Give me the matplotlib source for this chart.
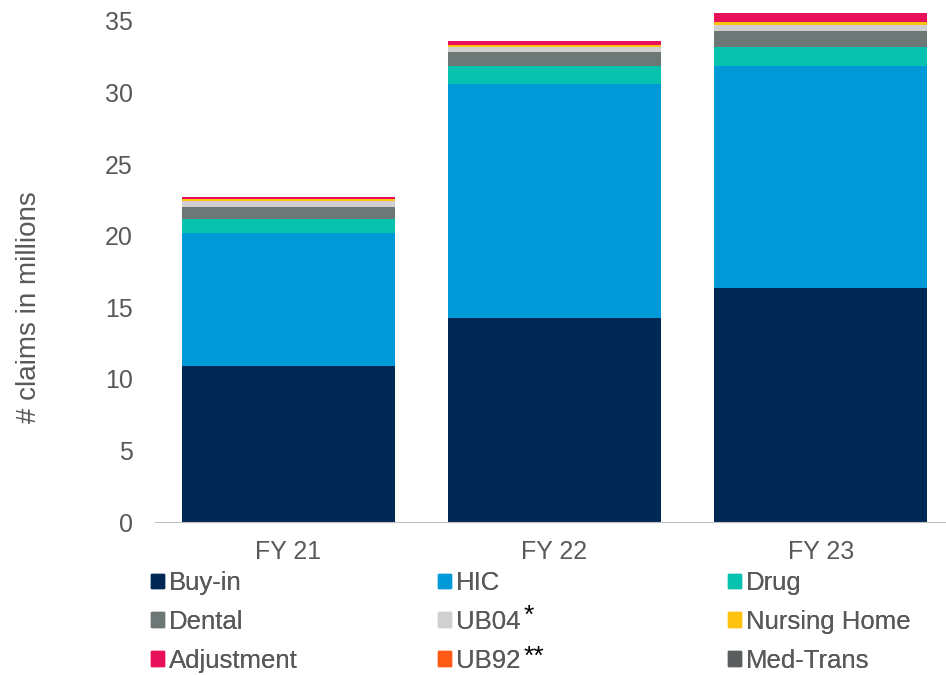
import matplotlib
matplotlib.use("Agg")
import matplotlib.pyplot as plt
from matplotlib.patches import Rectangle
import numpy as np

plt.rcParams['font.family'] = ['Liberation Sans', 'DejaVu Sans']

years = ["FY 21", "FY 22", "FY 23"]
series = ["Buy-in", "HIC", "Drug", "Dental", "UB04", "Nursing Home", "Adjustment", "UB92", "Med-Trans"]
buy_in = [10.9, 14.26, 16.35]
hic = [9.3, 16.34, 15.52]
drug = [0.97, 1.27, 1.32]
dental = [0.86, 0.93, 1.07]
ub04 = [0.37, 0.39, 0.42]
nursing_home = [0.15, 0.14, 0.24]
adjustment = [0.15, 0.27, 0.60]
ub92 = [0.01, 0.01, 0.01]
med_trans = [0.0, 0.0, 0.0]

colors = ["#002855", "#0099D8", "#08C2B0", "#6D7876", "#D0D0D0", "#FFC20E", "#E8105A", "#FF5B14", "#5B5E5E"]
values = [buy_in, hic, drug, dental, ub04, nursing_home, adjustment, ub92, med_trans]

fig = plt.figure(figsize=(9.46, 6.75), dpi=100)
ax = fig.add_axes([155/946, 153/675, 791/946, 514/675])

x = np.arange(len(years))
bottom = np.zeros(len(years))
for name, vals, c in zip(series, values, colors):
    ax.bar(x, vals, 0.8, bottom=bottom, color=c, label=name, linewidth=0)
    bottom += np.array(vals)

ax.set_xlim(-0.5, 2.47)
ax.set_ylim(0, 35.9)
ax.set_yticks(range(0, 36, 5))
ax.set_xticks(x)
ax.set_xticklabels(years)
for s in ["top", "right", "left"]:
    ax.spines[s].set_visible(False)
ax.spines["bottom"].set_color("#BFBFBF")
ax.tick_params(axis="y", length=0, labelsize=18, colors="#595959", pad=16)
ax.tick_params(axis="x", length=0, labelsize=18, colors="#595959", pad=13)
ax.set_ylabel("# claims in millions", fontsize=20, color="#595959")
ax.yaxis.set_label_coords(-(155 - 42) / 791, 0.5 - 42 / 514)

cols = [[0, 3, 6], [1, 4, 7], [2, 5, 8]]
xpos = [151, 438, 728]
for col, xp in zip(cols, xpos):
    hs = [Rectangle((0, 0), 1, 1, color=colors[i]) for i in col]
    ls = [series[i] for i in col]
    leg = fig.legend(hs, ls, loc="upper left", bbox_to_anchor=(xp/946, 1 - 571/675),
                     frameon=False, fontsize=18.5, handlelength=0.5, handleheight=0.5,
                     handletextpad=0.2, labelspacing=0.58, borderpad=0, borderaxespad=0,
                     labelcolor="#595959")
    fig.add_artist(leg)

fig.text(524/946, 1 - 616/675, "*", fontsize=19, color="black", ha="left", va="center")
fig.text(524/946, 1 - 657/675, "**", fontsize=19, color="black", ha="left", va="center")

fig.savefig("out.png", dpi=100)
